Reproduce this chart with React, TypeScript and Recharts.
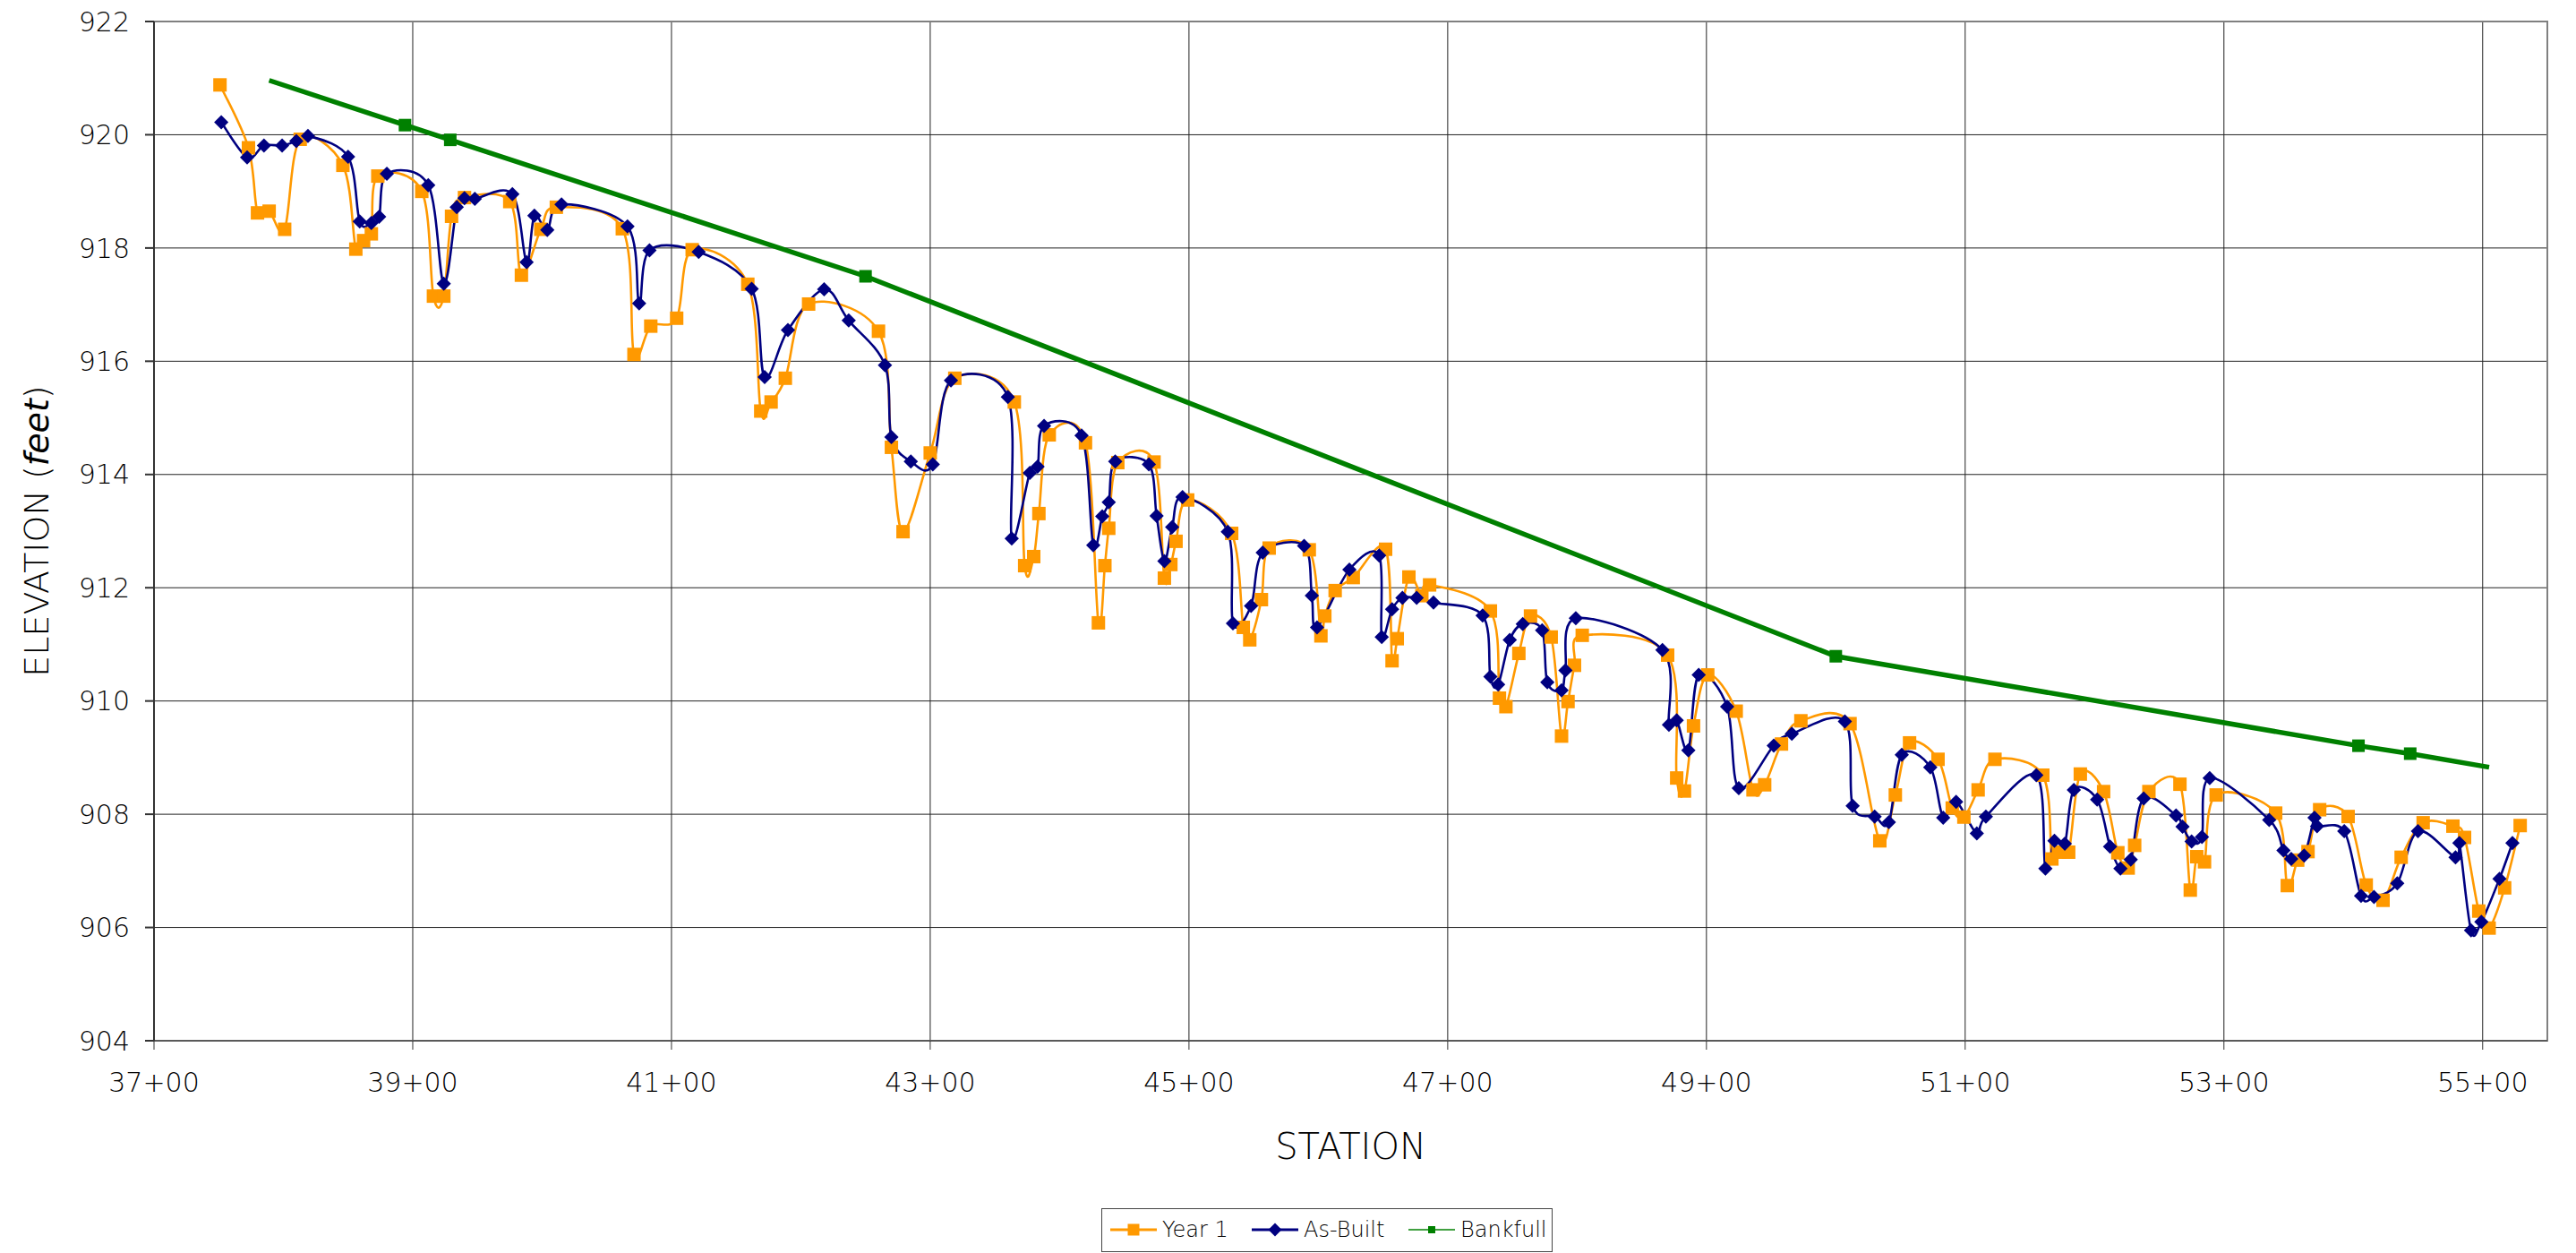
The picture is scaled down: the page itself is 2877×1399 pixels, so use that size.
import { CartesianGrid, Legend, Line, LineChart, ReferenceArea, XAxis, YAxis } from "recharts";

// [station (ft), elevation (ft)]
const year1: [number, number][] = [
  [3751, 920.88], [3773, 919.77], [3780, 918.62], [3789, 918.65], [3801, 918.33],
  [3813, 919.92], [3846, 919.46], [3856, 917.98], [3862, 918.13], [3868, 918.25],
  [3873, 919.27], [3907, 919.0], [3916, 917.15], [3924, 917.15], [3930, 918.56],
  [3940, 918.89], [3975, 918.82], [3984, 917.52], [3999, 918.33], [4011, 918.72],
  [4062, 918.34], [4071, 916.12], [4084, 916.62], [4104, 916.76], [4116, 917.97],
  [4159, 917.36], [4169, 915.12], [4177, 915.28], [4188, 915.7], [4206, 917.01],
  [4260, 916.53], [4270, 914.48], [4279, 912.99], [4300, 914.38], [4319, 915.7],
  [4365, 915.28], [4373, 912.39], [4380, 912.55], [4384, 913.31], [4392, 914.7],
  [4420, 914.56], [4430, 911.38], [4435, 912.39], [4438, 913.05], [4445, 914.21],
  [4473, 914.22], [4481, 912.17], [4486, 912.41], [4490, 912.82], [4499, 913.55],
  [4533, 912.96], [4542, 911.3], [4547, 911.08], [4556, 911.79], [4562, 912.7],
  [4593, 912.67], [4602, 911.15], [4605, 911.5], [4613, 911.95], [4627, 912.18],
  [4652, 912.68], [4657, 910.71], [4661, 911.1], [4670, 912.19], [4680, 911.86],
  [4686, 912.05], [4733, 911.59], [4740, 910.05], [4745, 909.9], [4755, 910.84],
  [4764, 911.5], [4780, 911.13], [4788, 909.38], [4793, 909.99], [4798, 910.63],
  [4804, 911.16], [4870, 910.81], [4877, 908.64], [4883, 908.41], [4890, 909.56],
  [4901, 910.46], [4923, 909.82], [4936, 908.43], [4945, 908.52], [4958, 909.24],
  [4973, 909.65], [5011, 909.6], [5034, 907.53], [5046, 908.34], [5057, 909.26],
  [5079, 908.97], [5090, 908.11], [5099, 907.95], [5110, 908.43], [5123, 908.97],
  [5160, 908.69], [5167, 907.21], [5172, 907.33], [5180, 907.33], [5189, 908.71],
  [5207, 908.4], [5218, 907.32], [5226, 907.05], [5231, 907.45], [5242, 908.4],
  [5266, 908.53], [5274, 906.66], [5279, 907.25], [5285, 907.16], [5294, 908.34],
  [5340, 908.02], [5349, 906.74], [5357, 907.19], [5365, 907.34], [5374, 908.08],
  [5396, 907.96], [5410, 906.75], [5423, 906.48], [5437, 907.24], [5454, 907.85],
  [5477, 907.79], [5486, 907.59], [5497, 906.29], [5505, 905.99], [5517, 906.7],
  [5529, 907.8],
];

const asBuilt: [number, number][] = [
  [3752, 920.22], [3772, 919.6], [3785, 919.81], [3799, 919.81], [3810, 919.89],
  [3819, 919.98], [3850, 919.61], [3859, 918.47], [3868, 918.44], [3874, 918.55],
  [3880, 919.31], [3912, 919.11], [3924, 917.37], [3934, 918.72], [3940, 918.88],
  [3948, 918.87], [3977, 918.95], [3988, 917.75], [3994, 918.57], [4004, 918.32],
  [4015, 918.77], [4066, 918.38], [4075, 917.02], [4083, 917.96], [4121, 917.93],
  [4162, 917.28], [4172, 915.72], [4190, 916.55], [4218, 917.27], [4237, 916.72],
  [4265, 915.93], [4270, 914.66], [4285, 914.23], [4302, 914.18], [4316, 915.66],
  [4360, 915.37], [4363, 912.87], [4377, 914.03], [4383, 914.14], [4388, 914.86],
  [4417, 914.69], [4426, 912.75], [4433, 913.26], [4438, 913.51], [4443, 914.23],
  [4469, 914.18], [4475, 913.27], [4481, 912.47], [4487, 913.07], [4495, 913.6],
  [4530, 912.99], [4534, 911.37], [4548, 911.68], [4557, 912.62], [4589, 912.74],
  [4595, 911.86], [4599, 911.3], [4624, 912.32], [4647, 912.57], [4649, 911.13],
  [4657, 911.62], [4665, 911.82], [4676, 911.82], [4689, 911.74], [4727, 911.51],
  [4733, 910.43], [4739, 910.29], [4748, 911.08], [4758, 911.36], [4773, 911.25],
  [4777, 910.33], [4788, 910.19], [4791, 910.54], [4799, 911.46], [4866, 910.9],
  [4871, 909.58], [4877, 909.66], [4886, 909.13], [4894, 910.46], [4916, 909.9],
  [4925, 908.46], [4952, 909.21], [4966, 909.42], [5007, 909.64], [5013, 908.15],
  [5030, 907.96], [5041, 907.86], [5051, 909.05], [5073, 908.83], [5083, 907.94],
  [5093, 908.22], [5109, 907.66], [5116, 907.96], [5155, 908.69], [5162, 907.04],
  [5169, 907.53], [5177, 907.48], [5184, 908.43], [5202, 908.26], [5212, 907.43],
  [5220, 907.04], [5228, 907.2], [5238, 908.28], [5263, 907.98], [5268, 907.78],
  [5275, 907.52], [5283, 907.6], [5289, 908.64], [5335, 907.9], [5346, 907.36],
  [5352, 907.21], [5362, 907.27], [5370, 907.94], [5372, 907.79], [5393, 907.7],
  [5406, 906.56], [5416, 906.54], [5434, 906.78], [5450, 907.7], [5479, 907.24],
  [5482, 907.49], [5491, 905.95], [5499, 906.1], [5513, 906.86], [5523, 907.49],
];

const bankfull: [number, number][] = [
  [3789, 920.96], [3894, 920.17], [3929, 919.91], [4250, 917.5],
  [5000, 910.79], [5404, 909.21], [5444, 909.07], [5505, 908.83],
];

const stationTicks = [3700, 3900, 4100, 4300, 4500, 4700, 4900, 5100, 5300, 5500];
const elevTicks = [904, 906, 908, 910, 912, 914, 916, 918, 920, 922];

const ORANGE = "#FF9900";
const NAVY = "#000080";
const GREEN = "#008000";
const FONT = "'DejaVu Sans', sans-serif";

const toRows = (pts: [number, number][]) => pts.map(([sta, elev]) => ({ sta, elev }));

const fmtStation = (v: number) => `${Math.floor(v / 100)}+${String(v % 100).padStart(2, "0")}`;

// Excel-style smoothed line (Catmull-Rom as cubic beziers, in screen space)
function excelSmooth(context: any) {
  let pts: number[][] = [];
  return {
    areaStart() {},
    areaEnd() {},
    lineStart() {
      pts = [];
    },
    point(x: number, y: number) {
      pts.push([+x, +y]);
    },
    lineEnd() {
      const n = pts.length;
      if (!n) return;
      context.moveTo(pts[0][0], pts[0][1]);
      if (n === 2) context.lineTo(pts[1][0], pts[1][1]);
      if (n < 3) return;
      for (let i = 0; i < n - 1; i++) {
        const p0 = pts[Math.max(0, i - 1)];
        const p1 = pts[i];
        const p2 = pts[i + 1];
        const p3 = pts[Math.min(n - 1, i + 2)];
        context.bezierCurveTo(
          p1[0] + (p2[0] - p0[0]) / 6,
          p1[1] + (p2[1] - p0[1]) / 6,
          p2[0] - (p3[0] - p1[0]) / 6,
          p2[1] - (p3[1] - p1[1]) / 6,
          p2[0],
          p2[1]
        );
      }
    },
  };
}

const squareDot = (color: string, size: number, skipEnds = 0) => (p: any) => {
  const { cx, cy, index } = p;
  if (cx == null || cy == null || (skipEnds && (index === 0 || index === skipEnds - 1)))
    return <g key={`e-${color}-${index}`} />;
  return <rect key={`s-${color}-${index}`} x={cx - size / 2} y={cy - size / 2} width={size} height={size} fill={color} />;
};

const diamondDot = (color: string, h: number) => (p: any) => {
  const { cx, cy, index } = p;
  if (cx == null || cy == null) return <g key={`e-${color}-${index}`} />;
  return <polygon key={`d-${index}`} points={`${cx},${cy - h} ${cx + h},${cy} ${cx},${cy + h} ${cx - h},${cy}`} fill={color} />;
};

// legend entries; left = icon offset inside the legend box
const legendItems = [
  { name: "Year 1", color: ORANGE, marker: "square", size: 13, lw: 3, left: 9 },
  { name: "As-Built", color: NAVY, marker: "diamond", size: 7.5, lw: 3, left: 167 },
  { name: "Bankfull", color: GREEN, marker: "square", size: 8, lw: 1.5, left: 342 },
];

const LegendBox = () => (
  <div
    style={{
      position: "relative",
      marginLeft: 1230,
      width: 504,
      height: 49,
      boxSizing: "border-box",
      border: "1.5px solid #444",
      whiteSpace: "nowrap",
      fontFamily: FONT,
      fontSize: 24,
      color: "#000",
      background: "#fff",
    }}
  >
    {legendItems.map((it) => (
      <div key={it.name} style={{ position: "absolute", left: it.left, top: 0, height: 46, display: "flex", alignItems: "center" }}>
        <svg width={52} height={20} style={{ flexShrink: 0 }}>
          <line x1={0} y1={10} x2={52} y2={10} stroke={it.color} strokeWidth={it.lw} />
          {it.marker === "square" ? (
            <rect x={26 - it.size / 2} y={10 - it.size / 2} width={it.size} height={it.size} fill={it.color} />
          ) : (
            <polygon points={`26,${10 - it.size} ${26 + it.size},10 26,${10 + it.size} ${26 - it.size},10`} fill={it.color} />
          )}
        </svg>
        <span style={{ marginLeft: 6, fontWeight: 200 }}>{it.name}</span>
      </div>
    ))}
  </div>
);

const YTitle = ({ viewBox }: any) => {
  const cy = viewBox.y + viewBox.height / 2;
  return (
    <text
      x={54}
      y={cy}
      transform={`rotate(-90 54 ${cy})`}
      textAnchor="middle"
      fontFamily={FONT}
      fontSize={38}
      fontWeight={200}
      fill="#000"
    >
      ELEVATION (<tspan fontStyle="italic">feet</tspan>)
    </text>
  );
};

const XTitle = ({ viewBox }: any) => (
  <text
    x={viewBox.x + viewBox.width / 2}
    y={viewBox.y + 132}
    textAnchor="middle"
    fontFamily={FONT}
    fontSize={40}
    fontWeight={200}
    fill="#000"
  >
    STATION
  </text>
);

const tickStyle = { fontSize: 30, fill: "#000", fontFamily: FONT, fontWeight: 200 };

export default function App() {
  return (
    <div style={{ position: "absolute", left: 0, top: 0, background: "#fff" }}>
      <LineChart width={2877} height={1399} margin={{ top: 24, right: 32, bottom: 1, left: 0 }}>
        <CartesianGrid stroke="#222" strokeWidth={1} />
        <ReferenceArea x1={3700} x2={5550} y1={904} y2={922} fill="none" stroke="#808080" strokeWidth={2} ifOverflow="visible" />
        <XAxis
          type="number"
          dataKey="sta"
          domain={[3700, 5550]}
          ticks={stationTicks}
          tickFormatter={fmtStation}
          allowDataOverflow
          height={187}
          tickSize={10}
          tickMargin={26}
          tick={tickStyle}
          stroke="#333"
          label={<XTitle />}
        />
        <YAxis
          type="number"
          domain={[904, 922]}
          ticks={elevTicks}
          allowDataOverflow
          width={172}
          tickSize={10}
          tickMargin={17}
          tick={tickStyle}
          stroke="#333"
          strokeWidth={2}
          label={<YTitle />}
        />
        <Legend verticalAlign="bottom" content={<LegendBox />} wrapperStyle={{ left: 0, width: 2877, height: 49, bottom: 1 }} />
        <Line
          name="Year 1"
          data={toRows(year1)}
          dataKey="elev"
          type={excelSmooth as any}
          stroke={ORANGE}
          strokeWidth={2.6}
          dot={squareDot(ORANGE, 15)}
          activeDot={false}
          isAnimationActive={false}
        />
        <Line
          name="As-Built"
          data={toRows(asBuilt)}
          dataKey="elev"
          type={excelSmooth as any}
          stroke={NAVY}
          strokeWidth={2.6}
          dot={diamondDot(NAVY, 8)}
          activeDot={false}
          isAnimationActive={false}
        />
        <Line
          name="Bankfull"
          data={toRows(bankfull)}
          dataKey="elev"
          type="linear"
          stroke={GREEN}
          strokeWidth={5.5}
          dot={squareDot(GREEN, 14, bankfull.length)}
          activeDot={false}
          isAnimationActive={false}
        />
      </LineChart>
    </div>
  );
}
